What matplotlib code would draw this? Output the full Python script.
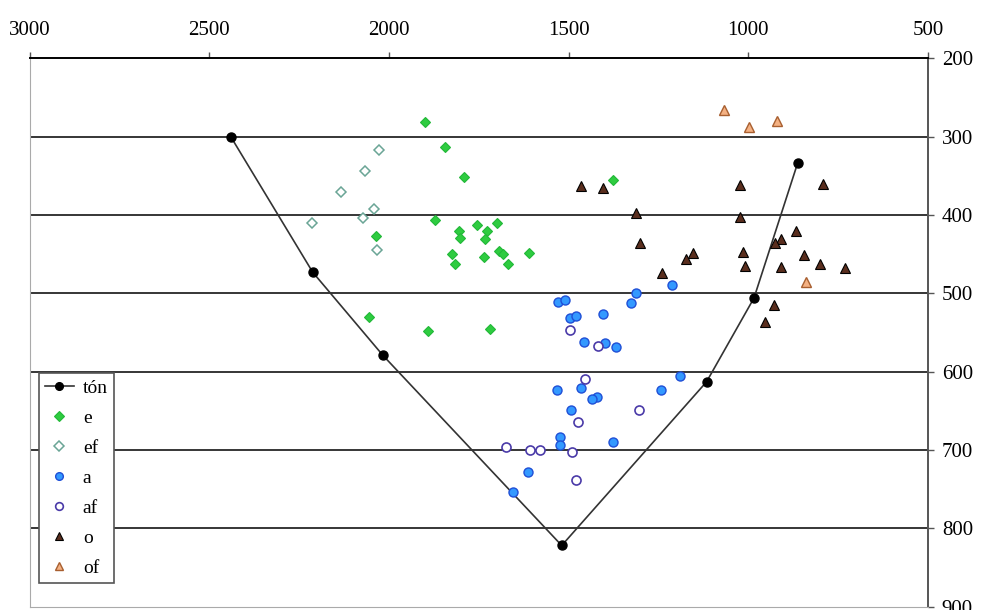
import matplotlib.pyplot as plt

plt.rcParams["font.family"] = ["Liberation Serif", "DejaVu Serif"]

# F2 (Hz), F1 (Hz) pairs
TON_F2 = [2440, 2212, 2017, 1519, 1116, 984, 862]
TON_F1 = [300, 473, 579, 822, 613, 506, 333]

E_F2 = [1900, 1844, 1792, 1871, 1804, 1755, 1699, 1728, 1802, 1733, 2036,
        1824, 1736, 1693, 1683, 1610, 1815, 1669, 2056, 1891, 1719, 1376]
E_F1 = [281, 313, 351, 407, 420, 413, 410, 420, 429, 430, 427,
        450, 454, 446, 450, 448, 463, 463, 530, 548, 546, 355]

EF_F2 = [2027, 2066, 2132, 2042, 2073, 2214, 2032]
EF_F1 = [317, 344, 370, 392, 404, 410, 445]

A_F2 = [1212, 1313, 1327, 1403, 1530, 1509, 1496, 1479, 1456, 1398, 1368, 1189,
        1533, 1466, 1242, 1420, 1434, 1493, 1524, 1524, 1377, 1614, 1654]
A_F1 = [490, 499, 512, 526, 511, 508, 532, 529, 562, 563, 568, 605,
        624, 621, 623, 632, 635, 649, 683, 694, 690, 728, 754]

AF_F2 = [1496, 1417, 1454, 1304, 1475, 1674, 1606, 1579, 1490, 1479]
AF_F1 = [547, 567, 609, 649, 664, 696, 700, 700, 702, 738]

O_F2 = [1464, 1405, 1313, 1300, 1155, 1174, 1241, 1023, 791, 1023, 867,
        910, 926, 1014, 844, 1010, 908, 801, 732, 927, 953]
O_F1 = [363, 366, 398, 436, 448, 456, 474, 362, 360, 402, 421,
        430, 436, 447, 451, 465, 467, 463, 468, 515, 536]

OF_F2 = [1068, 999, 920, 838]
OF_F1 = [266, 287, 280, 486]

X_TICKS = [3000, 2500, 2000, 1500, 1000, 500]
Y_TICKS = [200, 300, 400, 500, 600, 700, 800, 900]

fig = plt.figure(figsize=(9.84, 6.10), dpi=100)
ax = fig.add_axes([0.030, 0.0056, 0.913, 0.8987])

ax.set_xlim(3000, 500)
ax.set_ylim(900, 200)
ax.set_xticks(X_TICKS)
ax.set_yticks(Y_TICKS)
ax.xaxis.tick_top()
ax.yaxis.tick_right()
ax.tick_params(axis="both", labelsize=15, length=4, width=1, color="#555555",
               direction="out")
ax.tick_params(axis="x", pad=9)
ax.tick_params(axis="y", pad=6)

for y in Y_TICKS[1:-1]:
    ax.axhline(y, color="black", lw=1.1, zorder=1)

ax.spines["top"].set_color("black")
ax.spines["top"].set_linewidth(1.4)
ax.spines["right"].set_color("#555555")
ax.spines["right"].set_linewidth(1.4)
ax.spines["left"].set_color("#aaaaaa")
ax.spines["bottom"].set_color("#aaaaaa")

ax.plot(TON_F2, TON_F1, color="#333333", lw=1.2, marker="o", ms=6.5,
        mfc="black", mec="black", zorder=3, label="tón")
ax.plot(E_F2, E_F1, ls="none", marker="D", ms=5.5, mfc="#2ecc40", mec="#22b838",
        mew=0.8, zorder=4, label="e")
ax.plot(EF_F2, EF_F1, ls="none", marker="D", ms=5.5, mfc="white", mec="#6aa596",
        mew=1.1, zorder=4, label="ef")
ax.plot(A_F2, A_F1, ls="none", marker="o", ms=6.5, mfc="#3399ff", mec="#1f4fd6",
        mew=1.0, zorder=4, label="a")
ax.plot(AF_F2, AF_F1, ls="none", marker="o", ms=6.5, mfc="white", mec="#4a3aa8",
        mew=1.2, zorder=4, label="af")
ax.plot(O_F2, O_F1, ls="none", marker="^", ms=6.5, mfc="#5a2e1e", mec="black",
        mew=0.8, zorder=4, label="o")
ax.plot(OF_F2, OF_F1, ls="none", marker="^", ms=6.5, mfc="#f4b183", mec="#a85f30",
        mew=1.0, zorder=4, label="of")

leg = ax.legend(loc="upper left", bbox_to_anchor=(0.0106, 0.4256),
                borderaxespad=0, fontsize=14, handlelength=1.5,
                handletextpad=0.45, labelspacing=0.64, borderpad=0.3,
                markerscale=0.85, fancybox=False, framealpha=1,
                edgecolor="#555555")
leg.get_frame().set_linewidth(1.2)

plt.savefig("out.png", dpi=100)
plt.close()
